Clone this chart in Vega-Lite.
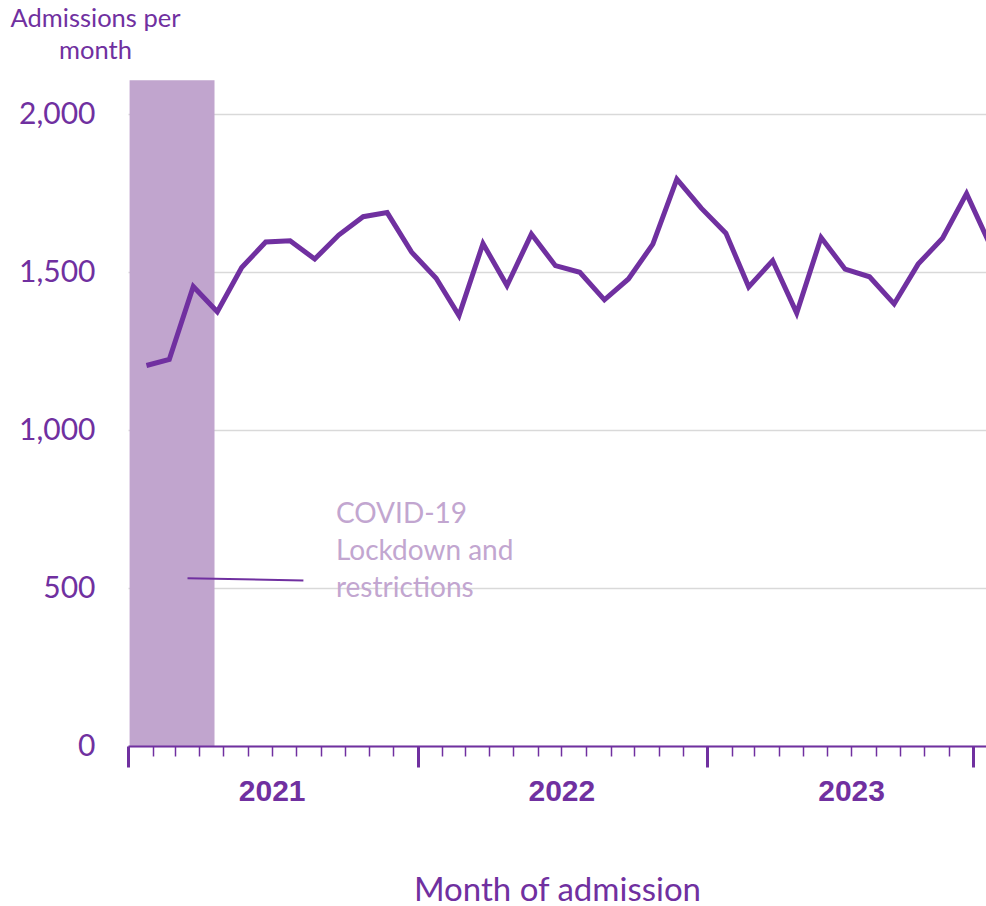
{
  "$schema": "https://vega.github.io/schema/vega-lite/v6.json",
  "width": 858,
  "height": 632,
  "autosize": {"type": "none"},
  "padding": {"left": 128, "top": 114, "right": 0, "bottom": 160},
  "background": "white",
  "config": {"view": {"stroke": null}, "font": "Lato"},
  "datasets": {
    "admissions": [
      {"month": "2021-01", "admissions": 1204},
      {"month": "2021-02", "admissions": 1223},
      {"month": "2021-03", "admissions": 1454},
      {"month": "2021-04", "admissions": 1374},
      {"month": "2021-05", "admissions": 1514},
      {"month": "2021-06", "admissions": 1595},
      {"month": "2021-07", "admissions": 1599},
      {"month": "2021-08", "admissions": 1541},
      {"month": "2021-09", "admissions": 1617},
      {"month": "2021-10", "admissions": 1675},
      {"month": "2021-11", "admissions": 1688},
      {"month": "2021-12", "admissions": 1563},
      {"month": "2022-01", "admissions": 1480},
      {"month": "2022-02", "admissions": 1362},
      {"month": "2022-03", "admissions": 1590},
      {"month": "2022-04", "admissions": 1457},
      {"month": "2022-05", "admissions": 1620},
      {"month": "2022-06", "admissions": 1520},
      {"month": "2022-07", "admissions": 1499},
      {"month": "2022-08", "admissions": 1412},
      {"month": "2022-09", "admissions": 1478},
      {"month": "2022-10", "admissions": 1588},
      {"month": "2022-11", "admissions": 1794},
      {"month": "2022-12", "admissions": 1702},
      {"month": "2023-01", "admissions": 1623},
      {"month": "2023-02", "admissions": 1453},
      {"month": "2023-03", "admissions": 1536},
      {"month": "2023-04", "admissions": 1370},
      {"month": "2023-05", "admissions": 1609},
      {"month": "2023-06", "admissions": 1509},
      {"month": "2023-07", "admissions": 1485},
      {"month": "2023-08", "admissions": 1399},
      {"month": "2023-09", "admissions": 1525},
      {"month": "2023-10", "admissions": 1607},
      {"month": "2023-11", "admissions": 1748},
      {"month": "2023-12", "admissions": 1580}
    ],
    "lockdown": [
      {"start": "2021-01-03", "end": "2021-04-20", "top": 2107}
    ],
    "note": [
      {"text_date": "2021-09-20", "text_value": 705, "label": "COVID-19\nLockdown and\nrestrictions", "line_start": "2021-03-17", "line_end": "2021-08-10", "line_from": 531, "line_to": 524}
    ]
  },
  "layer": [
    {
      "data": {"name": "lockdown"},
      "mark": {"type": "rect", "color": "#C1A5CE"},
      "encoding": {
        "x": {"field": "start", "type": "temporal", "scale": {"type": "utc", "domain": [{"year": 2021, "month": 1, "date": 1, "utc": true}, {"year": 2023, "month": 12, "date": 18, "utc": true}]}},
        "x2": {"field": "end"},
        "y": {"field": "top", "type": "quantitative"},
        "y2": {"datum": 0}
      }
    },
    {
      "data": {"name": "admissions"},
      "mark": {"type": "line", "color": "#7030A0", "strokeWidth": 5, "clip": true},
      "encoding": {
        "x": {
          "field": "month", "timeUnit": "utcyearmonth", "type": "temporal", "bandPosition": 0.75,
          "scale": {"type": "utc", "domain": [{"year": 2021, "month": 1, "date": 1, "utc": true}, {"year": 2023, "month": 12, "date": 18, "utc": true}]},
          "axis": {
            "tickCount": {"interval": "month", "step": 1},
            "grid": false,
            "domainColor": "#7030A0",
            "domainWidth": 2,
            "tickColor": "#7030A0",
            "tickSize": {"condition": {"test": "utcmonth(datum.value) === 0 || (utcyear(datum.value) === 2023 && utcmonth(datum.value) === 11)", "value": 21}, "value": 10},
            "tickWidth": {"condition": {"test": "utcmonth(datum.value) === 0 || (utcyear(datum.value) === 2023 && utcmonth(datum.value) === 11)", "value": 3}, "value": 1.5},
            "labelExpr": "utcmonth(datum.value) === 6 ? utcFormat(datum.value, '%Y') : ''",
            "labelFont": "Liberation Sans",
            "labelFontWeight": "bold",
            "labelFontSize": 30,
            "labelColor": "#7030A0",
            "labelPadding": 20,
            "labelOverlap": false,
            "labelFlush": false,
            "labelBound": false,
            "title": "Month of admission",
            "titleFont": "Lato",
            "titleFontSize": 33,
            "titleFontWeight": "normal",
            "titleColor": "#7030A0",
            "titleBaseline": "alphabetic",
            "titleY": 154,
            "zindex": 1
          }
        },
        "y": {
          "field": "admissions", "type": "quantitative",
          "scale": {"domain": [0, 2000], "nice": false},
          "axis": {
            "values": [0, 500, 1000, 1500, 2000],
            "labelExpr": "format(datum.value, ',')",
            "domain": false,
            "ticks": false,
            "grid": true,
            "gridColor": "#D9D9D9",
            "gridWidth": 1.5,
            "labelFont": "Lato",
            "labelFontSize": 30,
            "labelColor": "#7030A0",
            "labelPadding": 33,
            "title": ["Admissions per", "month"],
            "titleFont": "Lato",
            "titleFontSize": 25.5,
            "titleFontWeight": "normal",
            "titleColor": "#7030A0",
            "titleAngle": 0,
            "titleAlign": "center",
            "titleBaseline": "alphabetic",
            "titleX": -33,
            "titleY": -88,
            "titleLineHeight": 32,
            "zindex": 0
          }
        }
      }
    },
    {
      "data": {"name": "note"},
      "mark": {"type": "rule", "color": "#7030A0", "strokeWidth": 2},
      "encoding": {
        "x": {"field": "line_start", "type": "temporal", "scale": {"type": "utc"}},
        "x2": {"field": "line_end"},
        "y": {"field": "line_from", "type": "quantitative"},
        "y2": {"field": "line_to"}
      }
    },
    {
      "data": {"name": "note"},
      "mark": {"type": "text", "align": "left", "baseline": "alphabetic", "fontSize": 28, "lineHeight": 37, "lineBreak": "\n", "color": "#C2A6D0", "font": "Lato"},
      "encoding": {
        "x": {"field": "text_date", "type": "temporal", "scale": {"type": "utc"}},
        "y": {"field": "text_value", "type": "quantitative"},
        "text": {"field": "label"}
      }
    }
  ]
}
